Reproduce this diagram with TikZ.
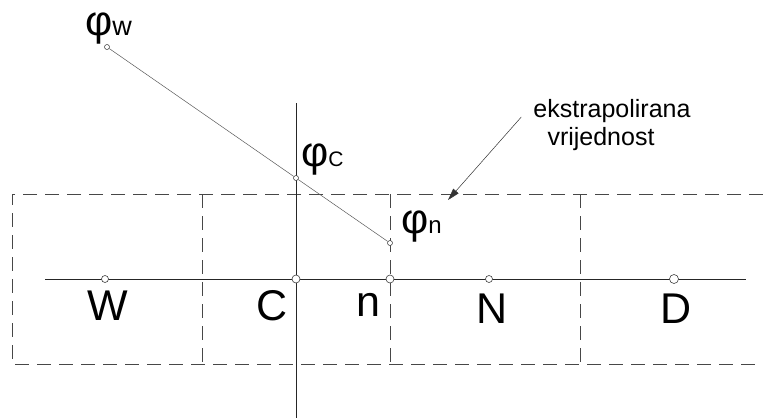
\documentclass[tikz,border=0pt]{standalone}
\usepackage{fontspec}
\setmainfont{Liberation Sans}
\usetikzlibrary{arrows.meta}
\begin{document}
\begin{tikzpicture}[x=1pt,y=-1pt,
  dashline/.style={draw=black!72, line width=0.75pt, dash pattern=on 14pt off 8pt},
  solidline/.style={draw=black!85, line width=0.7pt},
  philine/.style={draw=black!65, line width=0.5pt},
  phipt/.style={circle, draw=black!80, fill=white, inner sep=0pt, minimum size=5pt, line width=0.5pt},
  gridpt/.style={circle, draw=black!75, fill=white, inner sep=0pt, minimum size=8pt, line width=0.6pt},
  biglbl/.style={font=\fontsize{43}{43}\selectfont, inner sep=0pt, anchor=base},
  philbl/.style={font=\fontsize{42}{42}\selectfont, inner sep=0pt, anchor=base west},
  notelbl/.style={font=\fontsize{25}{28}\selectfont, inner sep=0pt, anchor=base},
  pointer/.style={draw=black!80, line width=0.5pt, -{Triangle[length=12pt,width=7pt]}}
]
\useasboundingbox (0,0) rectangle (763,418);

% dashed control volumes
\draw[dashline] (763,194) -- (12,194) -- (12,364) -- (763,364);
\draw[dashline] (202,194) -- (202,364);
\draw[dashline] (390,194) -- (390,364);
\draw[dashline] (580,194) -- (580,364);

% axes
\coordinate (axL) at (45,279);
\coordinate (axR) at (746,279);
\coordinate (vT) at (296,103);
\coordinate (vB) at (296,418);
\draw[solidline] (axL) -- (axR);
\draw[solidline] (vT) -- (vB);

% phi points
\node[phipt] (pw) at (107,47) {};
\node[phipt] (pc) at (296,178) {};
\node[phipt] (pn) at (390,243) {};
\draw[philine] (pw) -- (pc) -- (pn);

% grid points
\node[gridpt, minimum size=7pt] (W) at (105,279) {};
\node[gridpt] (C) at (296,279) {};
\node[gridpt] (n) at (390,279) {};
\node[gridpt, minimum size=7pt] (N) at (489,279) {};
\node[gridpt, minimum size=9pt] (D) at (674,279) {};

% labels
\node[biglbl] (lW) at (108,320) {W};
\node[biglbl] (lC) at (272,320) {C};
\node[biglbl] (ln) at (368,316) {n};
\node[biglbl] (lN) at (492,323) {N};
\node[biglbl] (lD) at (676,323) {D};

\node[philbl] (lpw) at (85,35) {φ{\fontsize{27}{27}\selectfont w}};
\node[philbl] (lpc) at (301,166) {φ{\fontsize{21}{21}\selectfont C}};
\node[philbl] (lpn) at (401,233) {φ{\fontsize{24}{24}\selectfont n}};

% note
\node[notelbl] (note1) at (612,117) {ekstrapolirana};
\node[notelbl] (note2) at (601,145) {vrijednost};
\coordinate (tip) at (448,200);
\draw[pointer] ([xshift=-12pt]note1.base west) -- (tip);
\end{tikzpicture}
\end{document}
